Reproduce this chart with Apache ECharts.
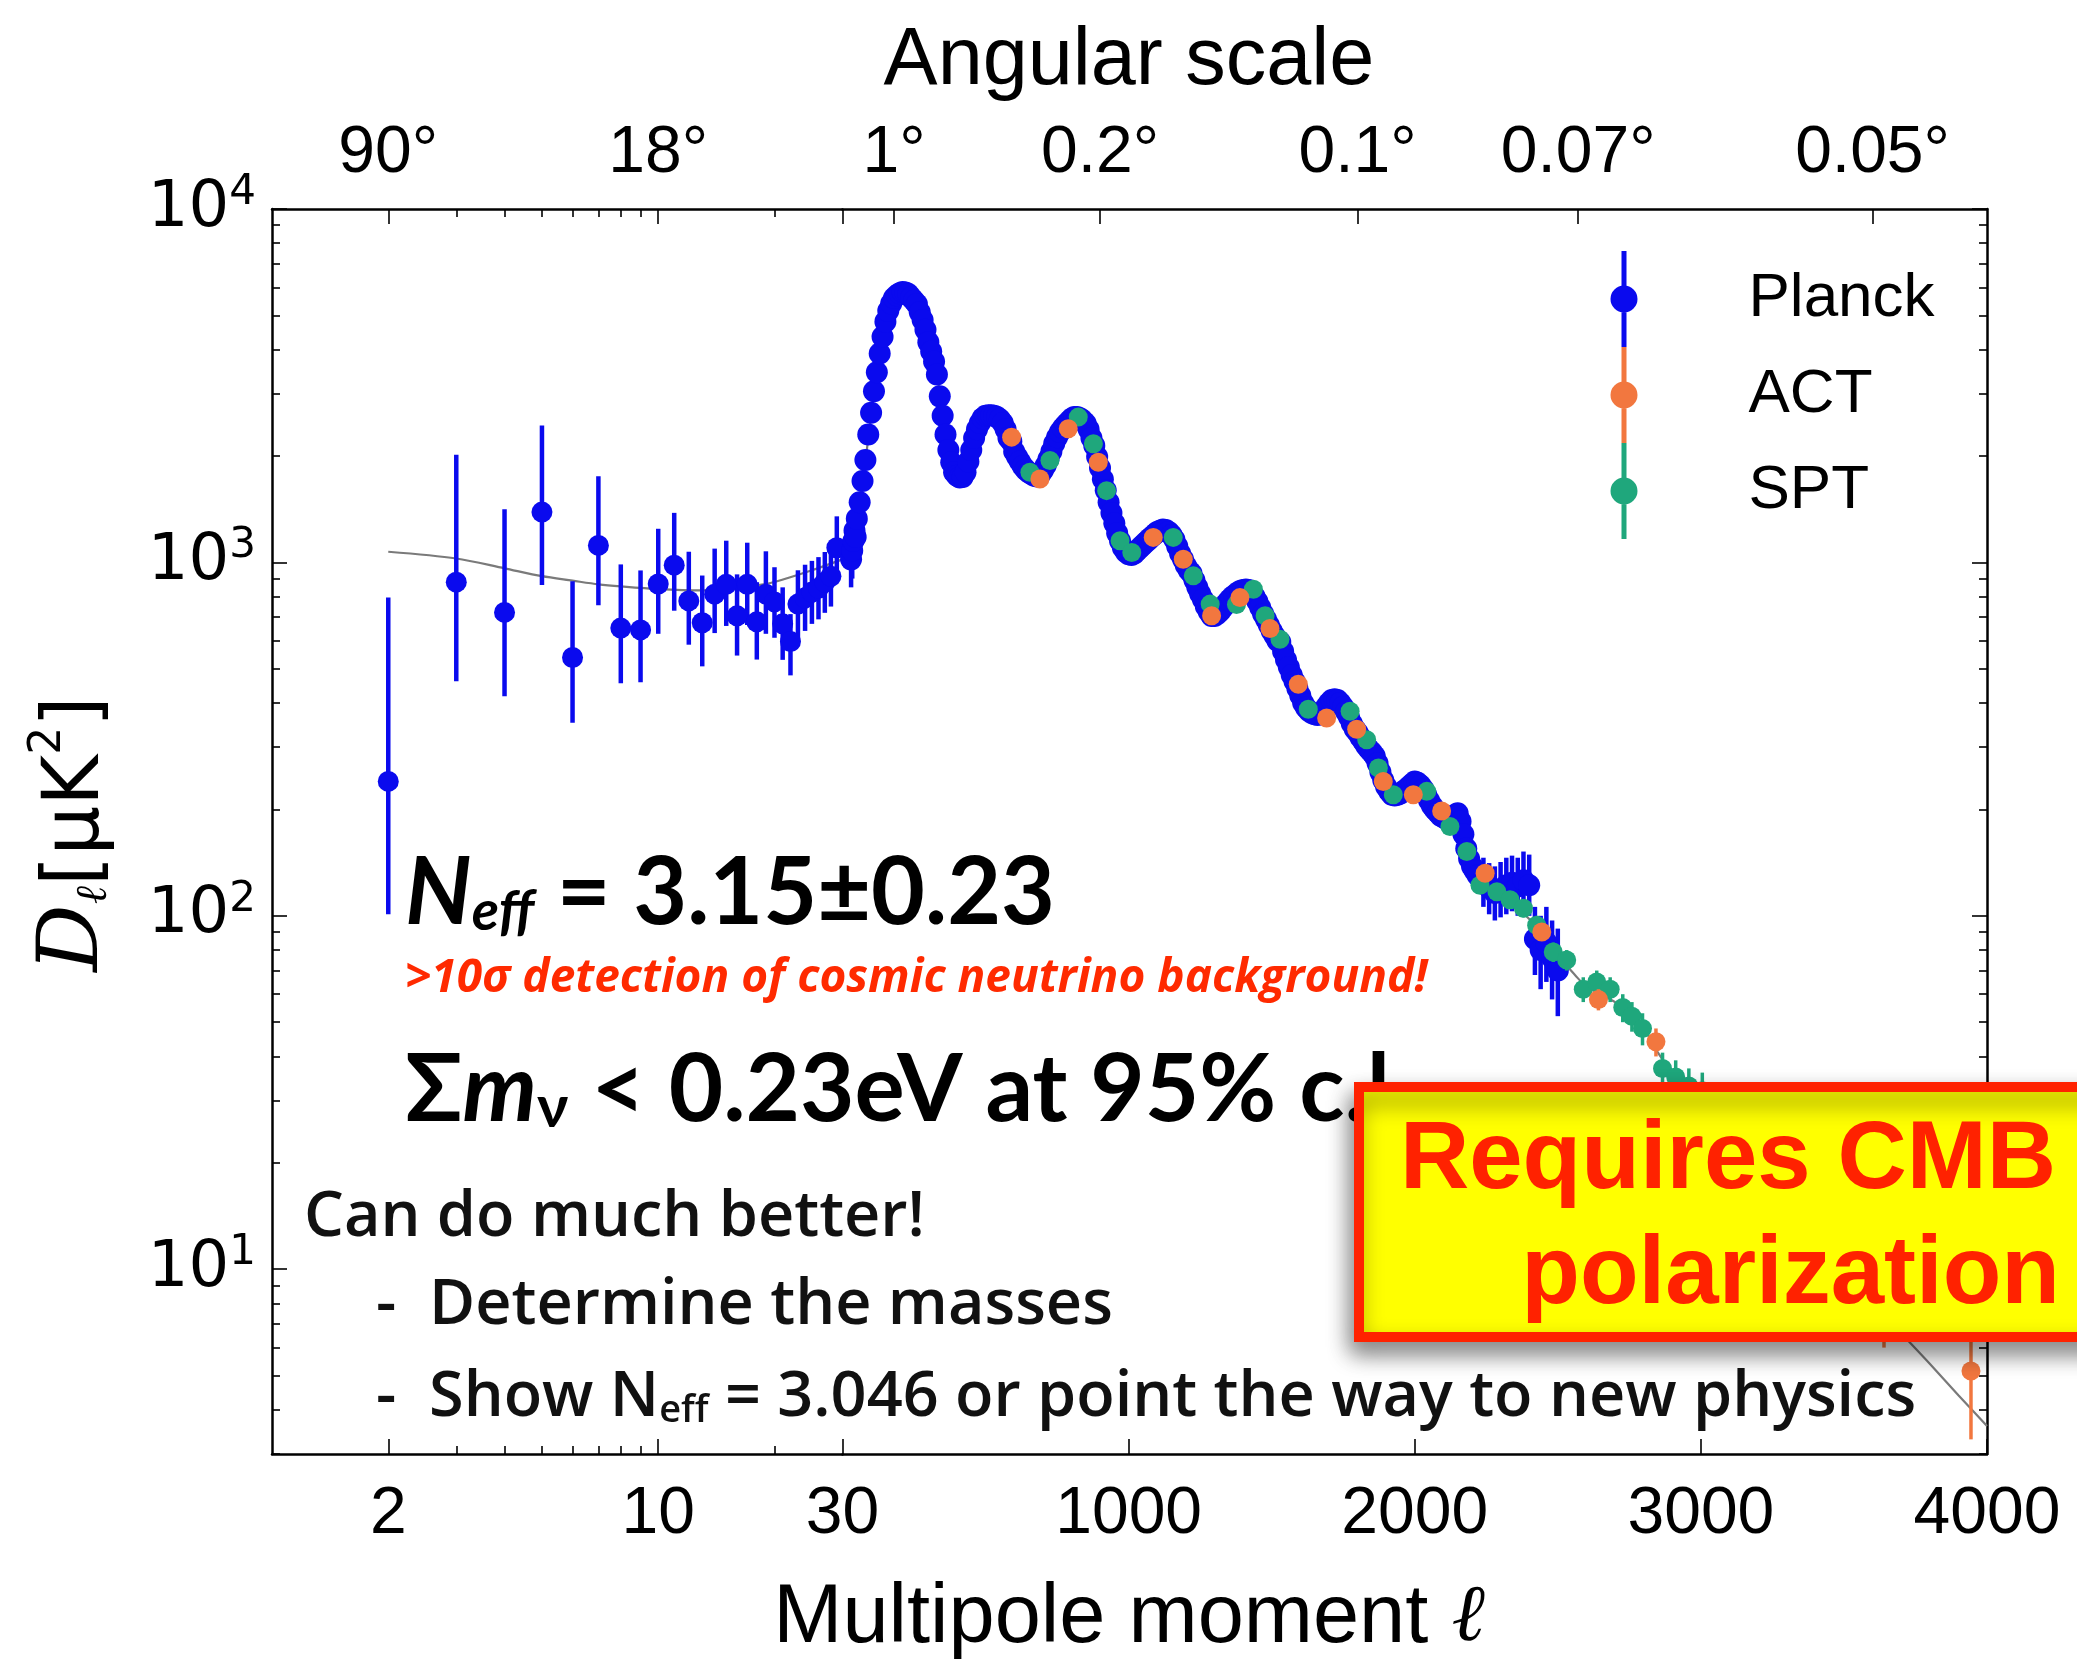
<!DOCTYPE html>
<html><head><meta charset="utf-8">
<script src="https://cdn.jsdelivr.net/npm/echarts@6/dist/echarts.min.js"></script>
<style>html,body{margin:0;padding:0;background:#fff;}#chart{width:2077px;height:1660px;}</style>
</head><body><div id="chart"></div>
<script>
// ---------------- DATA ----------------
// Planck low-l (log part of the x axis)
const planckLowL  = [2,3,4,5,6,7,8,9,10,11,12,13,14,15,16,17,18,19,20,21,22,23,24,25,26,27,28,29];
const planckLowD  = [240,879,722,1388,538,1117,652,644,869,982,778,675,813,867,706,867,679,813,773,670,597,762,794,824,845,879,914,1100];
const planckLowLo = [101,461,418,863,352,756,455,458,628,730,585,508,631,661,545,665,531,628,612,530,479,610,640,670,690,720,750,900];
const planckLowHi = [796,2018,1413,2438,885,1754,987,949,1245,1381,1072,918,1094,1152,925,1137,879,1075,969,850,714,950,985,1010,1035,1070,1110,1350];

// Planck binned high-l
const planckHighL = [30,34,38,42,46,50,60,70,80,90,100,110,120,130,140,150,160,170,180,190,200,210,220,230,240,250,260,270,280,290,300,310,320,330,340,350,360,370,380,390,400,410,420,430,440,450,460,470,480,490,500,510,520,530,540,550,560,570,580,590,600,610,620,630,640,650,660,670,680,690,700,710,720,730,740,750,760,770,780,790,800,810,820,830,840,850,860,870,880,890,900,910,920,930,940,950,960,970,980,990,1000,1010,1020,1030,1040,1050,1060,1070,1080,1090,1100,1110,1120,1130,1140,1150,1160,1170,1180,1190,1200,1210,1220,1230,1240,1250,1260,1270,1280,1290,1300,1310,1320,1330,1340,1350,1360,1370,1380,1390,1400,1410,1420,1430,1440,1450,1460,1470,1480,1490,1500,1510,1520,1530,1540,1550,1560,1570,1580,1590,1600,1610,1620,1630,1640,1650,1660,1670,1680,1690,1700,1710,1720,1730,1740,1750,1760,1770,1780,1790,1800,1810,1820,1830,1840,1850,1860,1870,1880,1890,1900,1910,1920,1930,1940,1950,1960,1970,1980,1990,2000,2010,2020,2030,2040,2050,2060,2070,2080,2090,2100,2110,2120,2130,2140,2150,2160,2170,2180,2190,2200,2210,2220,2240,2260,2280,2300,2320,2340,2360,2380,2400,2420,2440,2460,2480,2500];
const planckHighD = [1020,1080,1150,1230,1180,1330,1480,1700,1950,2300,2650,3050,3450,3900,4350,4800,5150,5400,5600,5700,5780,5820,5800,5750,5620,5500,5380,5100,4850,4550,4200,3950,3700,3400,2950,2600,2300,2080,1920,1800,1760,1740,1745,1800,1930,2080,2250,2380,2480,2560,2600,2610,2610,2600,2580,2540,2480,2380,2250,2200,2060,1990,1930,1870,1830,1800,1780,1760,1750,1770,1820,1880,1960,2060,2170,2260,2340,2400,2450,2500,2550,2580,2580,2560,2520,2470,2380,2250,2140,1990,1850,1720,1600,1480,1380,1290,1210,1150,1100,1070,1055,1050,1060,1080,1100,1120,1140,1160,1180,1200,1220,1230,1240,1235,1220,1195,1160,1110,1060,1020,980,950,930,890,850,815,785,750,725,705,705,715,728,745,762,780,795,808,820,830,835,838,835,820,800,775,745,715,690,665,640,620,600,595,560,530,505,480,460,440,420,400,388,380,375,372,370,372,378,390,400,408,410,408,400,390,378,365,350,338,330,320,312,303,296,290,283,270,255,242,232,225,220,219,220,222,225,228,232,236,240,238,234,228,220,212,205,200,196,192,190,188,188,190,193,195,185,170,155,145,138,134,130,125,120,116,119,122,124,121,126,122,86,80,84,76,70];
// Planck error bars that are visible (others are hidden under the markers)
const planckBarL  = [30,34,38,42,46,2240,2260,2280,2300,2320,2340,2360,2380,2400,2420,2440,2460,2480,2500];
const planckBarLo = [850,900,960,1040,1000,106,101,97,99,101,103,100,104,100,68,62,65,58,52];
const planckBarHi = [1230,1290,1370,1450,1400,146,141,138,142,146,148,146,152,149,106,100,106,97,92];

// ACT
const actL  = [591,690,789,894,1086,1191,1290,1389,1494,1593,1692,1797,1890,1995,2094,2246,2444,2642,2843,3040,3340,3640,3944];
const actD  = [2262,1722,2388,1920,1177,1021,706,795,650,452,363,337,240,220,198,132,90,58,44,29,14,8,5.15];
const actLo = [2200,1680,2330,1870,1150,995,688,775,632,440,352,326,232,212,190,126,85,54,40,25,11,6,3.3];
const actHi = [2320,1765,2450,1970,1205,1047,724,815,668,464,374,348,248,228,206,138,95,62,48,33,17,10,8.0];

// SPT
const sptL  = [655,725,824,877,923,970,1011,1156,1226,1285,1377,1436,1477,1529,1628,1774,1832,1873,1925,2042,2123,2182,2228,2287,2333,2380,2426,2484,2531,2589,2636,2683,2727,2759,2796,2866,2912,2958,3005,3060,3120,3180,3250,3320,3400];
const sptD  = [1800,1942,2577,2166,1596,1151,1067,1177,916,762,760,840,706,606,384,379,315,262,220,225,179,152,122,117,111,105,94,79,75,62,65,62,55,52,48,37,35,33,32,28,25,22,19,16,13];
const sptLo = [1760,1900,2520,2120,1560,1125,1043,1150,895,744,742,820,689,591,374,368,306,254,213,217,172,146,117,111,105,99,88,74,70,57,60,57,50,47,43,33,31,29,28,24,21,18,15,12,10];
const sptHi = [1840,1985,2635,2210,1632,1177,1091,1204,937,780,778,860,723,621,394,390,324,270,227,233,186,158,127,123,117,111,100,84,80,67,70,67,60,57,53,41,39,37,36,32,29,26,23,20,16];

// Best-fit theory curve
const theoryLowL  = [2,3,4,5,6,7,8,10,13,16,18,20,25,30];
const theoryLowD  = [1072,1026,962,914,888,867,855,840,833,840,860,880,950,1020];
const theoryHighL = [30,50,75,100,125,150,175,200,220,240,260,285,310,335,360,380,400,420,440,465,490,520,550,580,610,640,670,700,730,760,790,820,850,880,910,940,970,1000,1030,1070,1110,1140,1170,1200,1230,1260,1290,1320,1360,1400,1430,1460,1490,1530,1560,1600,1640,1680,1720,1760,1800,1840,1880,1920,1960,2000,2040,2080,2120,2160,2200,2240,2280,2320,2360,2400,2440,2480,2520,2560,2600,2650,2700,2750,2800,2850,2900,3000,3100,3200,3300,3400,3500,3600,3700,3800,3900,4000];
const theoryHighD = [1020,1330,1800,2600,3650,4800,5500,5780,5810,5640,5380,4700,3950,3200,2350,1950,1770,1745,1930,2310,2560,2610,2540,2250,1990,1830,1760,1810,2060,2340,2500,2580,2470,2140,1720,1380,1150,1055,1080,1160,1230,1220,1110,980,890,785,705,728,795,835,820,745,665,595,505,420,375,378,410,378,330,296,255,222,225,240,220,196,182,165,140,125,117,111,105,98,90,80,74,68,63,60,57,53,48,41,36,30,24,19,15.5,12.4,10,8.2,6.6,5.4,4.4,3.6];

// Tick values / labels
const xTickLow   = [2,10,30];
const xMinorLow  = [3,4,5,6,7,8,9,20];
const xTickHigh  = [1000,2000,3000,4000];
const angularL   = [2,10,180,900,1800,2571.4,3600];
const angularLab = ['90°','18°','1°','0.2°','0.1°','0.07°','0.05°'];
const yTickValues = [10,100,1000,10000];
const yTickExps   = ['1','2','3','4'];
const yMinor = [3,4,5,6,7,8,9,20,30,40,50,60,70,80,90,200,300,400,500,600,700,800,900,2000,3000,4000,5000,6000,7000,8000,9000];

// ---------------- BUILD ----------------
const zip2 = (a,b) => a.map((v,i)=>[v,b[i]]);
const zip3 = (a,b,c) => a.map((v,i)=>[v,b[i],c[i]]);
const C_PLANCK = '#0a0aee', C_ACT = '#f2773f', C_SPT = '#1fa77c', C_TH = '#7a7a7a';

function errRender(color, w){
  return function(params, api){
    const x = api.value(0), lo = api.value(1), hi = api.value(2);
    const a = api.coord([x, lo]), b = api.coord([x, hi]);
    return {type:'line', shape:{x1:a[0], y1:a[1], x2:b[0], y2:b[1]}, style:{stroke:color, lineWidth:w}};
  };
}
function angLabel(v){
  for (let i=0;i<angularL.length;i++){ if (Math.abs(angularL[i]-v) < 1e-3*angularL[i]) return angularLab[i]; }
  return '';
}
const LBL = {fontFamily:'Liberation Sans', fontSize:66, color:'#000'};
const LINE = {show:true, onZero:false, lineStyle:{color:'#000', width:2.5}};
const NOLINE = {show:false, onZero:false};
const TICKSTYLE = {color:'#000', width:1.6};

function xAx(grid, type, pos, min, max, major, labels, fmt, minor){
  const base = {gridIndex:grid, type:type, position:pos, min:min, max:max, splitLine:{show:false}};
  if (type==='log') base.logBase = 10;
  if (minor) return Object.assign(base, {axisLine:NOLINE, axisTick:{show:true, inside:true, length:8, customValues:minor, lineStyle:TICKSTYLE}, axisLabel:{show:false}});
  return Object.assign(base, {axisLine:LINE,
    axisTick:{show:true, inside:true, length:15, customValues:major, lineStyle:TICKSTYLE},
    axisLabel:Object.assign({show:true, customValues:labels, formatter:fmt, margin:(pos==='bottom'?28:22), hideOverlap:false}, LBL)});
}
function yAx(grid, pos, withLabels, minor){
  const base = {gridIndex:grid, type:'log', logBase:10, position:pos, min:3, max:10000, splitLine:{show:false}};
  if (minor) return Object.assign(base, {axisLine:NOLINE, axisTick:{show:true, inside:true, length:8, customValues:yMinor, lineStyle:TICKSTYLE}, axisLabel:{show:false}});
  return Object.assign(base, {axisLine:LINE,
    axisTick:{show:true, inside:true, length:15, customValues:yTickValues, lineStyle:TICKSTYLE},
    axisLabel: withLabels ? {show:true, customValues:yTickValues, margin:16, hideOverlap:false,
       formatter: v => '{b|10}{s|' + yTickExps[yTickValues.indexOf(Math.round(v))] + '}',
       rich:{b:{fontFamily:'DejaVu Sans', fontSize:64, color:'#000', lineHeight:74},
             s:{fontFamily:'DejaVu Sans', fontSize:42, color:'#000', verticalAlign:'top', lineHeight:40}}} : {show:false}});
}

const legendIcon = 'path://M11,0 L16,0 L16,96 L11,96 Z M0,48 A13.5,13.5 0 1,1 27,48 A13.5,13.5 0 1,1 0,48 Z';

const option = {
  animation:false,
  backgroundColor:'#fff',
  textStyle:{fontFamily:'Liberation Sans'},
  grid:[
    {left:272, top:209, width:570.5, height:1245, containLabel:false, outerBoundsMode:'none'},
    {left:842.5, top:209, width:1144.5, height:1245, containLabel:false, outerBoundsMode:'none'}
  ],
  xAxis:[
    xAx(0,'log','bottom',1,30,xTickLow,xTickLow,v=>String(Math.round(v))),
    xAx(0,'log','bottom',1,30,null,null,null,xMinorLow),
    xAx(0,'log','top',1,30,xTickLow,[2,10],angLabel),
    xAx(0,'log','top',1,30,null,null,null,xMinorLow),
    xAx(1,'value','bottom',0,4000,xTickHigh,xTickHigh,v=>String(Math.round(v))),
    xAx(1,'value','top',0,4000,angularL.slice(2),angularL.slice(2),angLabel)
  ],
  yAxis:[
    yAx(0,'left',true,false),
    yAx(0,'left',false,true),
    yAx(1,'right',false,false),
    yAx(1,'right',false,true)
  ],
  legend:{
    orient:'vertical', left:1605.5, top:246, itemWidth:27, itemHeight:96, itemGap:0, selectedMode:false,
    data:[{name:'Planck', icon:legendIcon},{name:'ACT', icon:legendIcon},{name:'SPT', icon:legendIcon}],
    textStyle:{fontFamily:'Liberation Sans', fontSize:62, color:'#000', padding:[0,0,0,106]}
  },
  series:[
    {type:'line', name:'theory-low', xAxisIndex:0, yAxisIndex:0, data:zip2(theoryLowL,theoryLowD), showSymbol:false, smooth:0.3, lineStyle:{color:C_TH, width:2.2}, z:1},
    {type:'custom', name:'planck-low-err', xAxisIndex:0, yAxisIndex:0, data:zip3(planckLowL,planckLowLo,planckLowHi), encode:{x:0,y:[1,2]}, renderItem:errRender(C_PLANCK,4.5), z:2},
    {type:'scatter', name:'Planck', xAxisIndex:0, yAxisIndex:0, data:zip2(planckLowL,planckLowD), symbolSize:21, itemStyle:{color:C_PLANCK, opacity:1}, z:3},

    {type:'line', name:'theory-high', xAxisIndex:4, yAxisIndex:2, data:zip2(theoryHighL,theoryHighD), showSymbol:false, smooth:0.3, lineStyle:{color:C_TH, width:2.2}, z:1},
    {type:'custom', name:'planck-high-err', xAxisIndex:4, yAxisIndex:2, data:zip3(planckBarL,planckBarLo,planckBarHi), encode:{x:0,y:[1,2]}, renderItem:errRender(C_PLANCK,4.5), z:2},
    {type:'scatter', name:'Planck', xAxisIndex:4, yAxisIndex:2, data:zip2(planckHighL,planckHighD), symbolSize:22, itemStyle:{color:C_PLANCK, opacity:1}, z:3},
    {type:'custom', name:'spt-err', xAxisIndex:4, yAxisIndex:2, data:zip3(sptL,sptLo,sptHi), encode:{x:0,y:[1,2]}, renderItem:errRender(C_SPT,3.5), z:4},
    {type:'scatter', name:'SPT', xAxisIndex:4, yAxisIndex:2, data:zip2(sptL,sptD), symbolSize:19, itemStyle:{color:C_SPT, opacity:1}, z:5},
    {type:'custom', name:'act-err', xAxisIndex:4, yAxisIndex:2, data:zip3(actL,actLo,actHi), encode:{x:0,y:[1,2]}, renderItem:errRender(C_ACT,3.5), z:6},
    {type:'scatter', name:'ACT', xAxisIndex:4, yAxisIndex:2, data:zip2(actL,actD), symbolSize:19, itemStyle:{color:C_ACT, opacity:1}, z:7}
  ],
  graphic:[
    {type:'text', x:1129, y:62, z:50, style:{text:'Angular scale', fontFamily:'Liberation Sans', fontSize:81, fill:'#000', align:'center', verticalAlign:'middle'}},
    {type:'text', x:1129, y:1619, z:50, style:{text:'Multipole moment {l|ℓ}', fontFamily:'Liberation Sans', fontSize:83, fill:'#000', align:'center', verticalAlign:'middle',
       rich:{l:{fontFamily:'DejaVu Serif', fontStyle:'italic', fontSize:80, fill:'#000'}}}},
    {type:'text', x:72, y:834, rotation:Math.PI/2, z:50, style:{text:'{d|D}{l|ℓ}{t|[μK}{s|2}{t|]}', align:'center', verticalAlign:'middle',
       rich:{d:{fontFamily:'DejaVu Serif', fontStyle:'italic', fontSize:84, fill:'#000', verticalAlign:'bottom', lineHeight:90},
             l:{fontFamily:'DejaVu Serif', fontStyle:'italic', fontSize:44, fill:'#000', verticalAlign:'bottom', lineHeight:60},
             t:{fontFamily:'DejaVu Sans', fontSize:78, fill:'#000', verticalAlign:'bottom', lineHeight:90},
             s:{fontFamily:'DejaVu Sans', fontSize:44, fill:'#000', verticalAlign:'top', lineHeight:44}}}},

    {type:'text', x:405, y:891, z:50, style:{text:'{n|N}{s|eff}{r| = 3.15±0.23}', align:'left', verticalAlign:'middle',
       rich:{n:{fontFamily:'Lato', fontWeight:'bold', fontStyle:'italic', fontSize:93, fill:'#000', lineHeight:98, verticalAlign:'bottom'},
             s:{fontFamily:'Lato', fontWeight:'bold', fontStyle:'italic', fontSize:56, fill:'#000', lineHeight:62, verticalAlign:'bottom'},
             r:{fontFamily:'Lato', fontWeight:'bold', fontSize:93, fill:'#000', lineHeight:98, verticalAlign:'bottom'}}}},
    {type:'text', x:405, y:979, z:50, style:{text:'>10σ detection of cosmic neutrino background!', fontFamily:'Open Sans', fontWeight:'bold', fontStyle:'italic', fontSize:46, fill:'#ff2a00', align:'left', verticalAlign:'middle'}},
    {type:'text', x:405, y:1089, z:50, style:{text:'{b|Σ}{i|m}{s|ν}{b| < 0.23eV at 95% c.l.}', align:'left', verticalAlign:'middle',
       rich:{b:{fontFamily:'Lato', fontWeight:'bold', fontSize:94, fill:'#000', lineHeight:98, verticalAlign:'bottom'},
             i:{fontFamily:'Lato', fontWeight:'bold', fontStyle:'italic', fontSize:94, fill:'#000', lineHeight:98, verticalAlign:'bottom'},
             s:{fontFamily:'Lato', fontWeight:'bold', fontSize:60, fill:'#000', lineHeight:60, verticalAlign:'bottom'}}}},
    {type:'text', x:304, y:1218, z:50, style:{text:'Can do much better!', fontFamily:'Open Sans', fontWeight:600, fontSize:63, fill:'#111', align:'left', verticalAlign:'middle'}},
    {type:'text', x:376, y:1306, z:50, style:{text:'-  Determine the masses', fontFamily:'Open Sans', fontWeight:600, fontSize:63, fill:'#111', align:'left', verticalAlign:'middle'}},
    {type:'text', x:376, y:1394, z:50, style:{text:'{r|-  Show N}{s|eff}{r| = 3.046 or point the way to new physics}', align:'left', verticalAlign:'middle',
       rich:{r:{fontFamily:'Open Sans', fontWeight:600, fontSize:63, fill:'#111', lineHeight:72, verticalAlign:'bottom'},
             s:{fontFamily:'Open Sans', fontWeight:600, fontSize:38, fill:'#111', lineHeight:46, verticalAlign:'bottom'}}}},

    {type:'rect', z:100, shape:{x:1359, y:1087, width:800, height:250},
       style:{fill:'#ffff00', stroke:'#ff2200', lineWidth:10, shadowBlur:22, shadowColor:'rgba(0,0,0,0.45)', shadowOffsetX:-4, shadowOffsetY:12}},
    {type:'text', x:2056, y:1162, z:101, style:{text:'Requires CMB', fontFamily:'Liberation Sans', fontWeight:'bold', fontSize:96, fill:'#ff2200', align:'right', verticalAlign:'middle'}},
    {type:'text', x:2060, y:1277, z:101, style:{text:'polarization', fontFamily:'Liberation Sans', fontWeight:'bold', fontSize:96, fill:'#ff2200', align:'right', verticalAlign:'middle'}}
  ]
};
const chart = echarts.init(document.getElementById('chart'), null, {renderer:'canvas'});
chart.setOption(option);
</script></body></html>
